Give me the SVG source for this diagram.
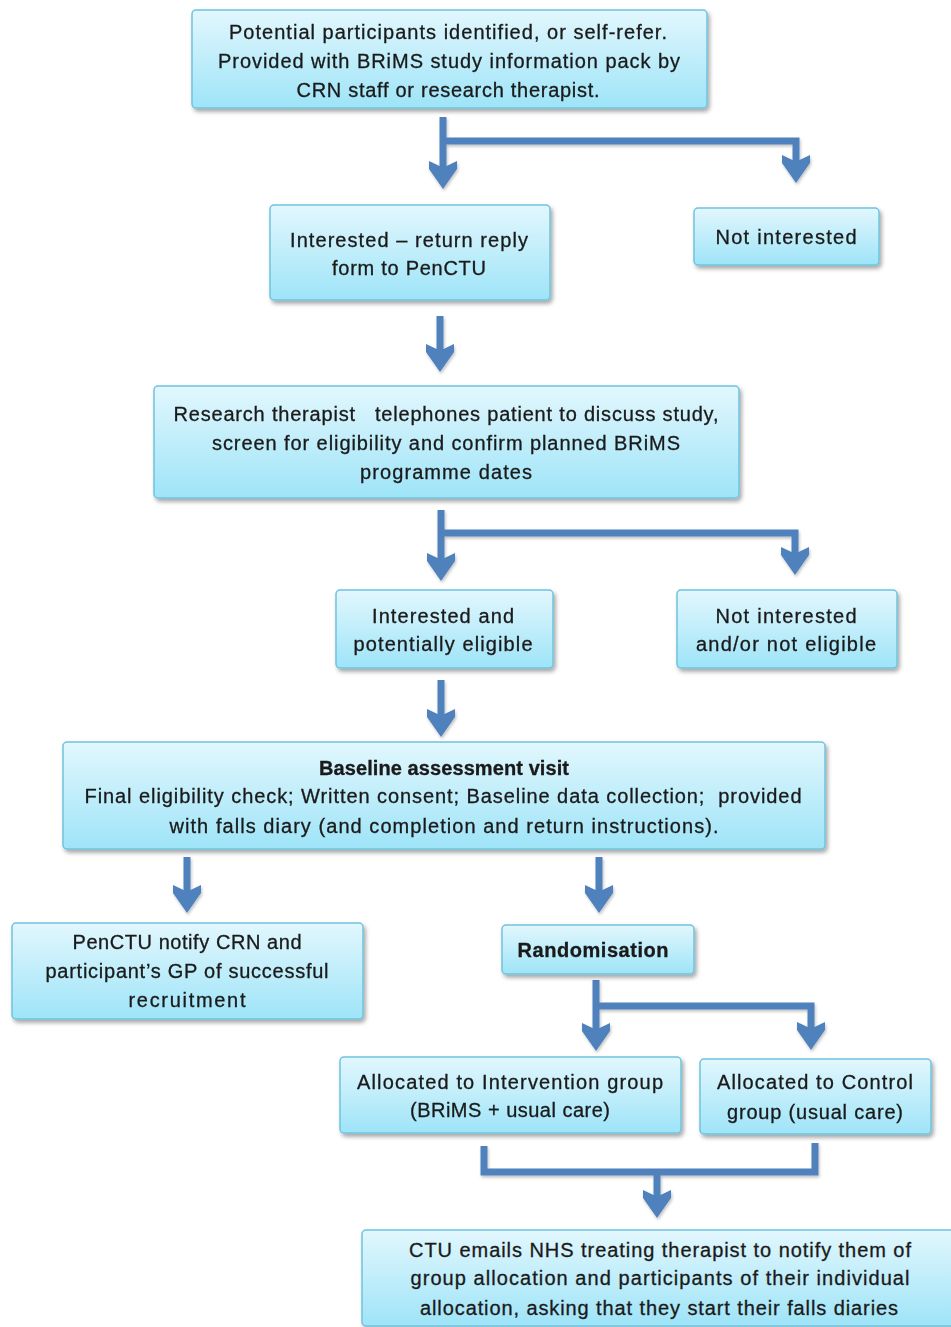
<svg xmlns="http://www.w3.org/2000/svg" width="951" height="1327" viewBox="0 0 951 1327">
<defs>
<linearGradient id="boxg" x1="0" y1="0" x2="0" y2="1">
<stop offset="0" stop-color="#e2f7fd"/>
<stop offset="1" stop-color="#9ee4f8"/>
</linearGradient>
<filter id="sh" x="-10%" y="-10%" width="120%" height="130%">
<feDropShadow dx="2" dy="3" stdDeviation="2" flood-color="#000" flood-opacity="0.35"/>
</filter>
<filter id="ash" x="-20%" y="-20%" width="140%" height="140%">
<feDropShadow dx="1" dy="2" stdDeviation="1.5" flood-color="#000" flood-opacity="0.25"/>
</filter>
<path id="head" d="M-3.5,-23 L-14,-28 L-14,-20 L0,0 L14,-20 L14,-28 L3.5,-23 Z"/>
</defs>
<style>
.box{fill:url(#boxg);stroke:#6fc3de;stroke-width:1.5;filter:url(#sh)}
.t{font-family:"Liberation Sans",Arial,sans-serif;font-size:20px;fill:#1a1a1a;stroke:#1a1a1a;stroke-width:0.3;text-anchor:middle;white-space:pre}
.b{font-weight:bold}
.ln{fill:none;stroke:#4f81bd;stroke-width:7;stroke-linejoin:miter}
.hd{fill:#4f81bd}
</style>
<rect width="951" height="1327" fill="#fff"/>

<g id="connectors" filter="url(#ash)">
<path class="ln" d="M443,117 V167 M443,141 H796 V161"/>
<use href="#head" class="hd" x="443" y="189"/>
<use href="#head" class="hd" x="796" y="183"/>
<path class="ln" d="M440,316 V350"/>
<use href="#head" class="hd" x="440" y="372"/>
<path class="ln" d="M441,510 V559 M441,533 H795 V553"/>
<use href="#head" class="hd" x="441" y="581"/>
<use href="#head" class="hd" x="795" y="575"/>
<path class="ln" d="M441,680 V715"/>
<use href="#head" class="hd" x="441" y="737"/>
<path class="ln" d="M187,857 V891"/>
<use href="#head" class="hd" x="187" y="913"/>
<path class="ln" d="M599,857 V891"/>
<use href="#head" class="hd" x="599" y="913"/>
<path class="ln" d="M596,980 V1029 M596,1006 H811 V1028"/>
<use href="#head" class="hd" x="596" y="1051"/>
<use href="#head" class="hd" x="811" y="1050"/>
<path class="ln" d="M484,1146 V1172 H815 V1143 M657,1172 V1196"/>
<use href="#head" class="hd" x="657" y="1218"/>
</g>

<g id="n1">
<rect class="box" x="192" y="10" width="515" height="98" rx="4"/>
<text class="t" x="448" y="39" textLength="438" lengthAdjust="spacing">Potential participants identified, or self-refer.</text>
<text class="t" x="449" y="68" textLength="462" lengthAdjust="spacing">Provided with BRiMS study information pack by</text>
<text class="t" x="448" y="97" textLength="303" lengthAdjust="spacing">CRN staff or research therapist.</text>
</g>
<g id="n2">
<rect class="box" x="270" y="205" width="280" height="95" rx="4"/>
<text class="t" x="409" y="247" textLength="238" lengthAdjust="spacing">Interested – return reply</text>
<text class="t" x="409" y="275" textLength="154" lengthAdjust="spacing">form to PenCTU</text>
</g>
<g id="n3">
<rect class="box" x="694" y="208" width="185" height="57" rx="4"/>
<text class="t" x="786" y="244" textLength="141" lengthAdjust="spacing">Not interested</text>
</g>
<g id="n4">
<rect class="box" x="154" y="386" width="585" height="112" rx="4"/>
<text class="t" x="446" y="421" textLength="545" lengthAdjust="spacing">Research therapist   telephones patient to discuss study,</text>
<text class="t" x="446" y="450" textLength="468" lengthAdjust="spacing">screen for eligibility and confirm planned BRiMS</text>
<text class="t" x="446" y="479" textLength="172" lengthAdjust="spacing">programme dates</text>
</g>
<g id="n5">
<rect class="box" x="336" y="590" width="217" height="78" rx="4"/>
<text class="t" x="443" y="623" textLength="142" lengthAdjust="spacing">Interested and</text>
<text class="t" x="443" y="651" textLength="179" lengthAdjust="spacing">potentially eligible</text>
</g>
<g id="n6">
<rect class="box" x="677" y="590" width="220" height="78" rx="4"/>
<text class="t" x="786" y="623" textLength="141" lengthAdjust="spacing">Not interested</text>
<text class="t" x="786" y="651" textLength="180" lengthAdjust="spacing">and/or not eligible</text>
</g>
<g id="n7">
<rect class="box" x="63" y="742" width="762" height="107" rx="4"/>
<text class="t b" x="444" y="775" textLength="250" lengthAdjust="spacing">Baseline assessment visit</text>
<text class="t" x="443" y="803" textLength="717" lengthAdjust="spacing">Final eligibility check; Written consent; Baseline data collection;  provided</text>
<text class="t" x="444" y="833" textLength="549" lengthAdjust="spacing">with falls diary (and completion and return instructions).</text>
</g>
<g id="n8">
<rect class="box" x="12" y="923" width="351" height="96" rx="4"/>
<text class="t" x="187" y="949" textLength="229" lengthAdjust="spacing">PenCTU notify CRN and</text>
<text class="t" x="187" y="978" textLength="283" lengthAdjust="spacing">participant’s GP of successful</text>
<text class="t" x="187" y="1007" textLength="117" lengthAdjust="spacing">recruitment</text>
</g>
<g id="n9">
<rect class="box" x="502" y="925" width="192" height="49" rx="4"/>
<text class="t b" x="593" y="957" textLength="151" lengthAdjust="spacing">Randomisation</text>
</g>
<g id="n10">
<rect class="box" x="340" y="1057" width="341" height="76" rx="4"/>
<text class="t" x="510" y="1089" textLength="306" lengthAdjust="spacing">Allocated to Intervention group</text>
<text class="t" x="510" y="1117" textLength="200" lengthAdjust="spacing">(BRiMS + usual care)</text>
</g>
<g id="n11">
<rect class="box" x="700" y="1059" width="231" height="75" rx="4"/>
<text class="t" x="815" y="1089" textLength="196" lengthAdjust="spacing">Allocated to Control</text>
<text class="t" x="815" y="1119" textLength="176" lengthAdjust="spacing">group (usual care)</text>
</g>
<g id="n12">
<rect class="box" x="362" y="1230" width="600" height="96" rx="4"/>
<text class="t" x="660" y="1257" textLength="502" lengthAdjust="spacing">CTU emails NHS treating therapist to notify them of</text>
<text class="t" x="660" y="1285" textLength="499" lengthAdjust="spacing">group allocation and participants of their individual</text>
<text class="t" x="659" y="1315" textLength="478" lengthAdjust="spacing">allocation, asking that they start their falls diaries</text>
</g>
</svg>
